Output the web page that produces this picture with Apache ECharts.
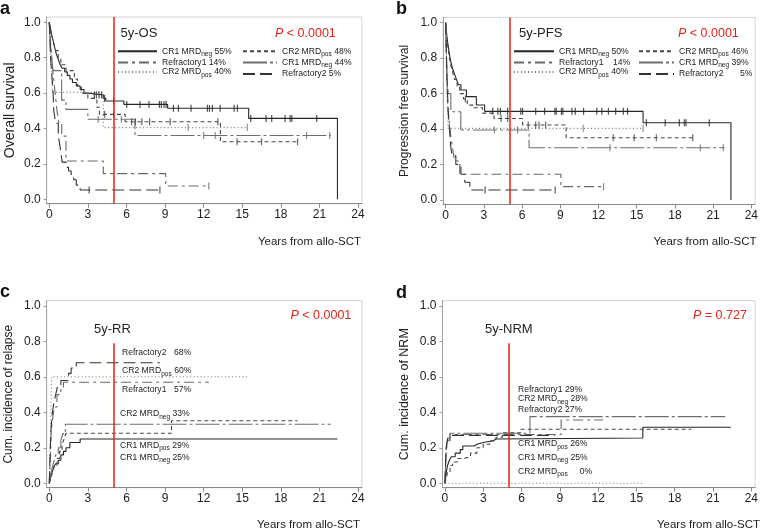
<!DOCTYPE html>
<html><head><meta charset="utf-8">
<script src="https://cdn.jsdelivr.net/npm/echarts@6/dist/echarts.min.js"></script>
<style>html,body{margin:0;padding:0;background:#fff}#c{width:761px;height:530px}</style>
</head><body><div id="c"></div>
<script>
// ---------- axis ticks ----------
const xTicks = [0, 3, 6, 9, 12, 15, 18, 21, 24];
const yTicks = [0, 0.2, 0.4, 0.6, 0.8, 1.0];
const landmarkYear = 5;

// ---------- panel a : overall survival [years, probability] ----------
const os_CR1neg55 = [[0,1],[0.08,0.97],[0.15,0.94],[0.25,0.91],[0.35,0.88],[0.45,0.85],[0.55,0.82],[0.7,0.79],[0.85,0.76],[1.0,0.74],[1.2,0.72],[1.4,0.70],[1.6,0.68],[1.8,0.66],[2.1,0.64],[2.4,0.62],[2.7,0.60],[3.0,0.589],[4.2,0.57],[4.4,0.555],[5.8,0.536],[9.2,0.514],[15.5,0.457],[22.4,0]];
const os_CR1neg55_cens = [[3.5,0.589],[3.66,0.589],[3.87,0.589],[4.07,0.589],[4.3,0.57],[5.0,0.555],[6.02,0.536],[7.05,0.536],[7.75,0.536],[8.56,0.536],[8.71,0.536],[8.92,0.536],[9.08,0.536],[9.65,0.514],[10.04,0.514],[11.02,0.514],[12.29,0.514],[12.45,0.514],[12.68,0.514],[13.28,0.514],[14.37,0.514],[14.62,0.514],[15.66,0.457],[16.85,0.457],[17.29,0.457],[18.33,0.457],[18.72,0.457],[18.85,0.457],[20.79,0.457]];
const os_CR2pos48 = [[0,1],[0.1,0.96],[0.2,0.92],[0.35,0.88],[0.5,0.84],[0.7,0.8],[0.9,0.76],[1.3,0.727],[1.95,0.68],[2.2,0.64],[2.5,0.6],[3.0,0.57],[3.7,0.52],[3.9,0.48],[5.9,0.438],[13.3,0.325],[19.3,0.325]];
const os_CR2pos48_cens = [[4.3,0.48],[5.0,0.48],[6.4,0.438],[6.7,0.438],[7.2,0.438],[7.8,0.438],[9.4,0.438],[13.1,0.438],[14.6,0.325],[16.5,0.325],[19.3,0.325]];
const os_CR2pos40 = [[0,1],[0.1,0.8],[0.25,0.604],[4.2,0.405],[15.4,0.405]];
const os_CR2pos40_cens = [[10.8,0.405],[15.4,0.405]];
const os_CR1neg44 = [[0,1],[0.05,0.93],[0.12,0.86],[0.2,0.79],[0.28,0.727],[0.96,0.56],[1.3,0.508],[3.0,0.452],[6.66,0.36],[21.9,0.36]];
const os_CR1neg44_cens = [[3.8,0.452],[5.6,0.452],[12.0,0.36],[12.9,0.36],[20.0,0.36],[21.8,0.36]];
const os_Ref1 = [[0,1],[0.05,0.93],[0.1,0.86],[0.2,0.79],[0.3,0.71],[0.4,0.64],[0.5,0.57],[0.6,0.5],[0.75,0.43],[0.97,0.357],[1.3,0.216],[4.2,0.145],[9.05,0.075],[12.4,0.075]];
const os_Ref1_cens = [[12.4,0.075]];
const os_Ref2 = [[0,1],[0.05,0.9],[0.1,0.8],[0.2,0.7],[0.3,0.6],[0.35,0.5],[0.5,0.43],[0.7,0.36],[0.85,0.29],[1.0,0.21],[1.3,0.18],[1.5,0.16],[1.7,0.14],[1.9,0.11],[2.1,0.08],[2.4,0.052],[8.6,0.052]];
const os_Ref2_cens = [[3.1,0.052],[8.6,0.052]];

// ---------- panel b : progression free survival ----------
const pfs_CR1neg50 = [[0,1],[0.05,0.96],[0.1,0.92],[0.2,0.87],[0.3,0.82],[0.4,0.78],[0.55,0.74],[0.7,0.71],[0.85,0.68],[1.0,0.65],[1.2,0.62],[1.63,0.583],[2.41,0.536],[3.06,0.5],[15.5,0.436],[22.4,0]];
const pfs_CR1neg50_cens = [[3.7,0.5],[4.1,0.5],[4.3,0.5],[4.87,0.5],[5.9,0.5],[6.04,0.5],[7.07,0.5],[7.77,0.5],[8.58,0.5],[8.68,0.5],[9.09,0.5],[9.2,0.5],[9.92,0.5],[10.18,0.5],[10.83,0.5],[11.87,0.5],[12.26,0.5],[12.78,0.5],[13.35,0.5],[13.95,0.5],[14.28,0.5],[15.76,0.436],[17.24,0.436],[18.35,0.436],[18.74,0.436],[18.87,0.436],[20.7,0.436]];
const pfs_CR2pos46 = [[0,1],[0.05,0.95],[0.1,0.9],[0.2,0.85],[0.3,0.8],[0.4,0.76],[0.55,0.72],[0.7,0.68],[0.9,0.64],[1.1,0.6],[1.4,0.57],[1.7,0.535],[2.2,0.52],[2.9,0.49],[3.8,0.46],[6.04,0.423],[9.46,0.351],[19.4,0.351]];
const pfs_CR2pos46_cens = [[1.55,0.57],[4.35,0.46],[4.87,0.46],[6.48,0.423],[7.07,0.423],[7.33,0.423],[7.85,0.423],[13.16,0.351],[14.8,0.351],[16.54,0.351],[19.4,0.351]];
const pfs_CR2pos40 = [[0,1],[0.05,0.8],[0.1,0.6],[0.2,0.404],[15.5,0.404]];
const pfs_CR2pos40_cens = [[10.8,0.404],[15.5,0.404]];
const pfs_CR1neg39 = [[0,1],[0.05,0.85],[0.1,0.7],[0.2,0.6],[0.41,0.498],[1.19,0.395],[6.55,0.295],[21.9,0.295]];
const pfs_CR1neg39_cens = [[3.83,0.395],[5.65,0.395],[12.9,0.295],[20.0,0.295],[21.8,0.295]];
const pfs_Ref1 = [[0,1],[0.05,0.85],[0.1,0.7],[0.15,0.57],[0.2,0.5],[0.3,0.43],[0.4,0.36],[0.55,0.29],[0.7,0.22],[1.11,0.145],[9.05,0.075],[12.4,0.075]];
const pfs_Ref1_cens = [[12.4,0.075]];
const pfs_Ref2 = [[0,1],[0.05,0.85],[0.1,0.7],[0.15,0.6],[0.2,0.5],[0.3,0.4],[0.4,0.3],[0.5,0.25],[0.8,0.2],[1.2,0.145],[1.5,0.1],[1.9,0.056],[8.6,0.056]];
const pfs_Ref2_cens = [[3.1,0.056],[8.6,0.056]];

// ---------- panel c : cumulative incidence of relapse ----------
const rr_CR1neg = [[0,0],[0.1,0.03],[0.2,0.06],[0.35,0.09],[0.5,0.11],[0.7,0.13],[0.9,0.16],[1.1,0.18],[1.3,0.2],[1.6,0.23],[2.4,0.25],[22.4,0.25]];
const rr_CR1pos = [[0,0],[0.1,0.04],[0.2,0.08],[0.35,0.12],[0.5,0.16],[0.7,0.2],[0.9,0.24],[1.05,0.28],[1.25,0.333],[21.9,0.333]];
const rr_CR2neg = [[0,0],[0.1,0.03],[0.25,0.06],[0.4,0.1],[0.6,0.14],[0.8,0.18],[1.0,0.22],[1.15,0.25],[1.3,0.282],[9.5,0.353],[19.3,0.353]];
const rr_CR2pos = [[0,0],[0.1,0.3],[0.18,0.601],[15.5,0.601]];
const rr_Ref1 = [[0,0],[0.08,0.14],[0.15,0.28],[0.25,0.36],[0.4,0.43],[0.6,0.5],[0.9,0.54],[1.1,0.57],[12.4,0.57]];
const rr_Ref2 = [[0,0],[0.05,0.13],[0.12,0.28],[0.2,0.38],[0.35,0.45],[0.5,0.5],[0.65,0.55],[0.9,0.58],[1.5,0.62],[1.7,0.65],[2.1,0.68],[8.6,0.68]];

// ---------- panel d : cumulative incidence of NRM ----------
const nrm_CR1neg = [[0,0],[0.05,0.03],[0.1,0.06],[0.2,0.1],[0.35,0.13],[0.5,0.15],[0.8,0.17],[1.2,0.19],[1.4,0.21],[2.3,0.22],[2.5,0.23],[3.0,0.24],[3.8,0.25],[4.0,0.255],[15.5,0.316],[22.4,0.316]];
const nrm_CR1pos = [[0,0],[0.05,0.1],[0.1,0.2],[0.2,0.25],[0.38,0.282],[6.66,0.376],[21.95,0.376]];
const nrm_CR2neg = [[0,0],[0.1,0.03],[0.2,0.06],[0.4,0.1],[0.6,0.12],[1.0,0.14],[1.5,0.15],[2.0,0.17],[2.5,0.2],[3.0,0.22],[3.5,0.24],[4.0,0.26],[4.5,0.285],[5.95,0.305],[19.3,0.305]];
const nrm_CR2pos = [[0,0],[15.5,0]];
const nrm_Ref1 = [[0,0],[0.05,0.1],[0.1,0.18],[0.2,0.24],[0.4,0.275],[9.1,0.357],[12.4,0.357]];
const nrm_Ref2 = [[0,0],[0.05,0.12],[0.1,0.2],[0.2,0.25],[0.35,0.27],[8.6,0.27]];

// ---------- styling ----------
const RED = '#e2231a';
const FONT = '"Liberation Sans", Arial, Helvetica, sans-serif';
const STY = {
  solid:    {color:'#262626', type:'solid'},
  dash:     {color:'#454545', type:[4,3]},
  dot:      {color:'#7c7c7c', type:[1,2.5]},
  gray:     {color:'#6e6e6e', type:[24,3,3,3]},
  dashdot:  {color:'#686868', type:[10,4,3,4]},
  longdash: {color:'#333333', type:[12,5]}
};

const base = {fontFamily:FONT, fontSize:8.6, lineHeight:13, color:'#222'};
const RICH = {
  n:  base,
  s:  {fontFamily:FONT, fontSize:6.6, lineHeight:5, verticalAlign:'bottom', color:'#222'},
  w47:Object.assign({}, base, {width:47}),
  w52:Object.assign({}, base, {width:52}),
  w54:Object.assign({}, base, {width:54}),
  w60:Object.assign({}, base, {width:61}),
  sp12:Object.assign({}, base, {width:12}),
  i:  {fontFamily:FONT, fontSize:12.5, fontStyle:'italic', color:RED, lineHeight:15},
  r:  {fontFamily:FONT, fontSize:12.5, color:RED, lineHeight:15}
};

const legendText = {
  a1:'{n|CR1 MRD}{s|neg}{n| 55%}', a2:'{n|CR2 MRD}{s|pos}{n| 48%}', a3:'{n|CR2 MRD}{s|pos}{n| 40%}',
  a4:'{n|CR1 MRD}{s|neg}{n| 44%}', a5:'{n|Refractory1 14%}', a6:'{n|Refractory2 5%}',
  b1:'{n|CR1 MRD}{s|neg}{n| 50%}', b2:'{n|CR2 MRD}{s|pos}{n| 46%}', b3:'{n|CR2 MRD}{s|pos}{n| 40%}',
  b4:'{n|CR1 MRD}{s|neg}{n| 39%}', b5:'{w54|Refractory1}{n|14%}', b6:'{w60|Refractory2}{n|5%}'
};

function line(id, data, sty, gi, extra){
  return Object.assign({id:id, name:id, type:'line', xAxisIndex:gi, yAxisIndex:gi, data:data, step:'end',
    symbol:'none', silent:true, z:3,
    lineStyle:{color:STY[sty].color, type:STY[sty].type, width:1.1},
    itemStyle:{color:STY[sty].color}}, extra || {});
}
function cens(data, sty, gi){
  return {type:'scatter', xAxisIndex:gi, yAxisIndex:gi, data:data, symbol:'rect', symbolSize:[1.2,7],
    silent:true, z:4, itemStyle:{color:STY[sty].color}};
}
const fullRed = {markLine:{silent:true, symbol:['none','none'], label:{show:false},
  lineStyle:{color:RED, width:1.5, type:'solid'}, data:[{xAxis:landmarkYear}]}};
const partRed = {markLine:{silent:true, symbol:['none','none'], label:{show:false},
  lineStyle:{color:RED, width:1.5, type:'solid'}, data:[[{coord:[landmarkYear,0.79]},{coord:[landmarkYear,-0.025]}]]}};

const grids = [
  {left:46.7, top:17, width:315.2, height:186.7},
  {left:443.1, top:17.4, width:314.8, height:187},
  {left:46.7, top:300.7, width:315.2, height:187},
  {left:442.4, top:300.7, width:314.1, height:187}
].map(g => Object.assign(g, {show:true, borderColor:'#d4d4d4', borderWidth:1}));

function xAx(gi){
  return {gridIndex:gi, type:'value', min:-0.2, max:24.3,
    axisLine:{onZero:false, lineStyle:{color:'#8a8a8a', width:1}},
    axisTick:{customValues:xTicks, length:4, lineStyle:{color:'#8a8a8a'}},
    axisLabel:{customValues:xTicks, fontSize:12, color:'#222', fontFamily:FONT, margin:5},
    splitLine:{show:false}};
}
function yAx(gi, name, size, gap){
  return {gridIndex:gi, type:'value', min:-0.025, max:1.03,
    axisLine:{show:true, onZero:false, lineStyle:{color:'#9a9a9a', type:'dotted'}},
    axisTick:{show:true, customValues:yTicks, length:3, lineStyle:{color:'#9a9a9a'}},
    axisLabel:{customValues:yTicks, formatter:v => v.toFixed(1), fontSize:12, color:'#222', fontFamily:FONT, margin:6},
    splitLine:{show:false},
    name:name, nameLocation:'middle', nameGap:gap,
    nameTextStyle:{fontSize:size, color:'#222', fontFamily:FONT}};
}

function T(text, pos, style){
  return Object.assign({text:text, padding:0, textStyle:Object.assign({fontFamily:FONT, color:'#222', fontWeight:'normal', rich:RICH}, style)}, pos);
}
const titles = [
  T('a', {left:0, top:0}, {fontSize:18, fontWeight:'bold', color:'#111'}),
  T('b', {left:396, top:0}, {fontSize:18, fontWeight:'bold', color:'#111'}),
  T('c', {left:0, top:283.5}, {fontSize:18, fontWeight:'bold', color:'#111'}),
  T('d', {left:396, top:284}, {fontSize:18, fontWeight:'bold', color:'#111'}),
  T('5y-OS', {left:120.5, top:27}, {fontSize:13}),
  T('5y-PFS', {left:519, top:27}, {fontSize:13}),
  T('5y-RR', {left:94, top:323}, {fontSize:13}),
  T('5y-NRM', {left:485, top:323}, {fontSize:13}),
  T('{i|P}{r| < 0.0001}', {left:275, top:26.5}, {}),
  T('{i|P}{r| < 0.0001}', {left:678, top:26.5}, {}),
  T('{i|P}{r| < 0.0001}', {left:290.5, top:308}, {}),
  T('{i|P}{r| = 0.727}', {left:693, top:308}, {}),
  T('Years from allo-SCT', {right:400, top:235.5}, {fontSize:11.5}),
  T('Years from allo-SCT', {right:4.5, top:235.5}, {fontSize:11.5}),
  T('Years from allo-SCT', {right:401, top:518.5}, {fontSize:11.5}),
  T('Years from allo-SCT', {right:1, top:518.5}, {fontSize:11.5}),
  // panel c labels
  T('{w52|Refractory2}{n|68%}', {left:122, top:346}, {}),
  T('{n|CR2 MRD}{s|pos}{n| 60%}', {left:122, top:364.5}, {}),
  T('{w52|Refractory1}{n|57%}', {left:122, top:383.5}, {}),
  T('{n|CR2 MRD}{s|neg}{n| 33%}', {left:120, top:407.5}, {}),
  T('{n|CR1 MRD}{s|pos}{n| 29%}', {left:120, top:439}, {}),
  T('{n|CR1 MRD}{s|neg}{n| 25%}', {left:120, top:451}, {}),
  // panel d labels
  T('{w47|Refractory1}{n|29%}', {left:518, top:383.5}, {}),
  T('{n|CR2 MRD}{s|neg}{n| 28%}', {left:518, top:392.5}, {}),
  T('{w47|Refractory2}{n|27%}', {left:518, top:403}, {}),
  T('{n|CR1 MRD}{s|pos}{n| 26%}', {left:518, top:437.5}, {}),
  T('{n|CR1 MRD}{s|neg}{n| 25%}', {left:518, top:451}, {}),
  T('{n|CR2 MRD}{s|pos}{sp12| }{n|0%}', {left:518, top:465}, {})
];

function leg(ids, left, w){
  return {data:ids, left:left, top:46.8, orient:'vertical', itemWidth:w, itemHeight:10, itemGap:0.3,
    padding:0, selectedMode:false, formatter:n => legendText[n],
    itemStyle:{opacity:0},
    textStyle:{fontFamily:FONT, fontSize:8.6, color:'#222', rich:RICH}};
}

const series = [
  line('a1', os_CR1neg55, 'solid', 0, fullRed), cens(os_CR1neg55_cens, 'solid', 0),
  line('a2', os_CR2pos48, 'dash', 0), cens(os_CR2pos48_cens, 'dash', 0),
  line('a3', os_CR2pos40, 'dot', 0), cens(os_CR2pos40_cens, 'dot', 0),
  line('a4', os_CR1neg44, 'gray', 0), cens(os_CR1neg44_cens, 'gray', 0),
  line('a5', os_Ref1, 'dashdot', 0), cens(os_Ref1_cens, 'dashdot', 0),
  line('a6', os_Ref2, 'longdash', 0), cens(os_Ref2_cens, 'longdash', 0),

  line('b1', pfs_CR1neg50, 'solid', 1, fullRed), cens(pfs_CR1neg50_cens, 'solid', 1),
  line('b2', pfs_CR2pos46, 'dash', 1), cens(pfs_CR2pos46_cens, 'dash', 1),
  line('b3', pfs_CR2pos40, 'dot', 1), cens(pfs_CR2pos40_cens, 'dot', 1),
  line('b4', pfs_CR1neg39, 'gray', 1), cens(pfs_CR1neg39_cens, 'gray', 1),
  line('b5', pfs_Ref1, 'dashdot', 1), cens(pfs_Ref1_cens, 'dashdot', 1),
  line('b6', pfs_Ref2, 'longdash', 1), cens(pfs_Ref2_cens, 'longdash', 1),

  line('c1', rr_CR1neg, 'solid', 2, partRed),
  line('c2', rr_CR1pos, 'gray', 2),
  line('c3', rr_CR2neg, 'dash', 2),
  line('c4', rr_CR2pos, 'dot', 2),
  line('c5', rr_Ref1, 'dashdot', 2),
  line('c6', rr_Ref2, 'longdash', 2),

  line('d1', nrm_CR1neg, 'solid', 3, partRed),
  line('d2', nrm_CR1pos, 'gray', 3),
  line('d3', nrm_CR2neg, 'dash', 3),
  line('d4', nrm_CR2pos, 'dot', 3),
  line('d5', nrm_Ref1, 'dashdot', 3),
  line('d6', nrm_Ref2, 'longdash', 3)
];

const chart = echarts.init(document.getElementById('c'), null, {renderer:'canvas'});
chart.setOption({
  animation:false,
  backgroundColor:'#fff',
  title:titles,
  legend:[leg(['a1','a5','a3'],117,39), leg(['a2','a4','a6'],242,34), leg(['b1','b5','b3'],513,40), leg(['b2','b4','b6'],638,35)],
  grid:grids,
  xAxis:[xAx(0), xAx(1), xAx(2), xAx(3)],
  yAxis:[yAx(0,'Overall survival',14,30), yAx(1,'Progression free survival',12,32), yAx(2,'Cum. incidence of relapse',12,32), yAx(3,'Cum. incidence of NRM',12.5,31)],
  series:series
});
</script></body></html>
